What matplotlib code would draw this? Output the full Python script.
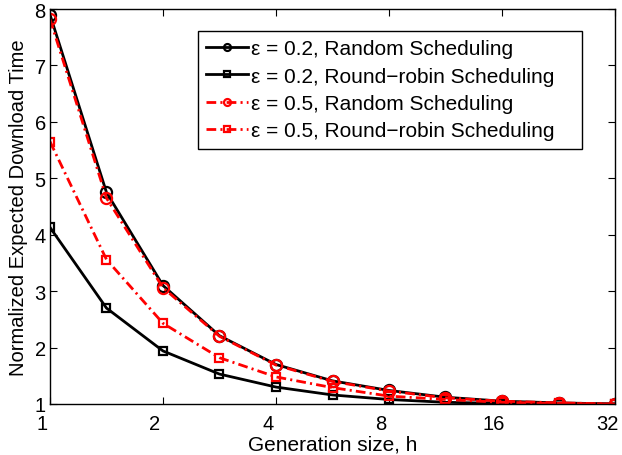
import matplotlib
matplotlib.use("Agg")
import matplotlib.pyplot as plt
import matplotlib.transforms as mtransforms
from matplotlib.ticker import FixedLocator, NullLocator, FixedFormatter

plt.rcParams['font.family'] = ['Liberation Sans', 'DejaVu Sans']
plt.rcParams['lines.scale_dashes'] = False

# generation sizes h (powers of sqrt(2))
h = [1, 1.414, 2, 2.828, 4, 5.657, 8, 11.31, 16, 22.63, 32]

rand_02 = [7.90, 4.75, 3.10, 2.21, 1.70, 1.41, 1.24, 1.12, 1.05, 1.02, 1.00]
rr_02 = [4.13, 2.70, 1.94, 1.53, 1.30, 1.16, 1.08, 1.03, 1.01, 1.00, 1.00]
rand_05 = [7.82, 4.65, 3.06, 2.20, 1.69, 1.40, 1.23, 1.11, 1.05, 1.02, 1.00]
rr_05 = [5.65, 3.56, 2.43, 1.82, 1.48, 1.29, 1.14, 1.08, 1.03, 1.01, 1.00]

labels = ['\u03b5 = 0.2, Random Scheduling',
          '\u03b5 = 0.2, Round\u2212robin Scheduling',
          '\u03b5 = 0.5, Random Scheduling',
          '\u03b5 = 0.5, Round\u2212robin Scheduling']

xticks = [1, 2, 4, 8, 16, 32]
yticks = [1, 2, 3, 4, 5, 6, 7, 8]

fig = plt.figure(figsize=(6.22, 4.56), dpi=100)
ax = fig.add_axes([50/622, 1-405/456, 565/622, 395/456])

dd = (7, 3, 1.5, 3)
ax.plot(h, rand_02, '-', color='k', lw=2, marker='o', ms=8, mfc='none', mew=1.6, label=labels[0])
ax.plot(h, rr_02, '-', color='k', lw=2, marker='s', ms=6, mfc='none', mew=1.6, label=labels[1])
ax.plot(h, rand_05, color='r', lw=2, dashes=dd, marker='o', ms=8, mfc='none', mew=1.6, label=labels[2])
ax.plot(h, rr_05, color='r', lw=2, dashes=dd, marker='s', ms=6, mfc='none', mew=1.6, label=labels[3])

ax.set_xscale('log', base=2)
ax.set_xlim(1, 32)
ax.set_ylim(1, 8)
ax.xaxis.set_major_locator(FixedLocator(xticks))
ax.xaxis.set_major_formatter(FixedFormatter([str(t) for t in xticks]))
ax.xaxis.set_minor_locator(NullLocator())
ax.set_yticks(yticks)
ax.tick_params(direction='in', top=True, right=True, length=5, width=0.8,
               labelsize=14.5, pad=3)
ax.tick_params(axis='x', pad=7)
for s in ax.spines.values():
    s.set_linewidth(1.0)

# MATLAB export shifts x tick labels a bit to the left
off = mtransforms.ScaledTranslation(-8/100, 0, fig.dpi_scale_trans)
for lab in ax.get_xticklabels():
    lab.set_transform(lab.get_transform() + off)

ax.set_xlabel('Generation size, h', fontsize=15, labelpad=1)
ax.set_ylabel('Normalized Expected Download Time', fontsize=14.5, labelpad=5)

leg = ax.legend(loc='upper left', bbox_to_anchor=(0.262, 0.944 - 0.294, 0.680, 0.294),
                mode='expand', fontsize=15,
                fancybox=False, edgecolor='k', framealpha=1, handlelength=2.0,
                borderpad=0.4, labelspacing=0.4, handletextpad=0.15, borderaxespad=0)
leg.get_frame().set_linewidth(1.0)
for ln in leg.get_lines():
    ln.set_markersize(5)

fig.savefig('out.png', dpi=100)
